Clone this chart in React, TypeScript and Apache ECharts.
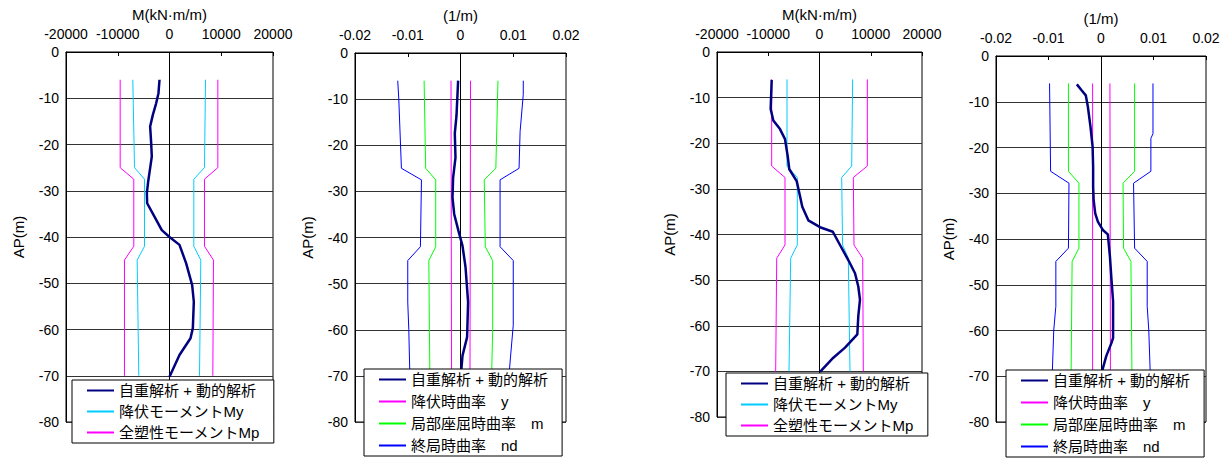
import React, { useEffect, useRef } from "react";
import * as echarts from "echarts";

// ---------- Tick labels / axes ----------
const depthTicks = [0, -10, -20, -30, -40, -50, -60, -70, -80];
const momentTicks = [-20000, -10000, 0, 10000, 20000];
const curvTicks = [-0.02, -0.01, 0, 0.01, 0.02];

// ---------- Legend names ----------
const NAME_MAIN = "自重解析 + 動的解析";
const NAME_MY = "降伏モーメントMy";
const NAME_MP = "全塑性モーメントMp";
const NAME_KY = "降伏時曲率　y";
const NAME_KM = "局部座屈時曲率　m";
const NAME_KND = "終局時曲率　nd";

// ---------- Panel 1 (moment) ----------
const p1MainDepth = [-6, -8.9, -11.1, -13.6, -16.1, -19.7, -22.6, -25.1, -28, -30.5, -32.7, -35.2, -38.5, -40, -41.7, -45.7, -50.4, -54, -59.7, -61.9, -65.5, -70.2];
const p1MainM = [-1930, -2130, -2580, -3220, -3740, -3540, -3420, -3740, -4120, -4380, -4320, -3090, -1490, 0, 1930, 3220, 4380, 4700, 4510, 4060, 1930, 0];
const p1LimDepth = [-6, -25, -27.5, -42, -45, -70];
const p1MyRight = [6960, 6760, 4700, 4700, 6050, 5800];
const p1MyLeft = [-7090, -6760, -4830, -4830, -6250, -5930];
const p1MpRight = [9340, 9340, 6760, 6760, 8500, 8370];
const p1MpLeft = [-9530, -9530, -6900, -6900, -8700, -8700];

// ---------- Panel 2 (curvature) ----------
const p2MainDepth = [-6, -13.6, -17.4, -22.7, -27, -31.3, -34.9, -38.5, -41.8, -46.4, -54, -61.6, -65.6, -70];
const p2MainK = [-0.00045, -0.00076, -0.00108, -0.00095, -0.0014, -0.00152, -0.0012, -0.0004, 0.00038, 0.00095, 0.00144, 0.00125, 0.00038, 0.00006];
const p2NdRightDepth = [-6, -9, -17, -25, -27.5, -42, -45, -59, -67, -70];
const p2NdRight = [0.0119, 0.0119, 0.0113, 0.0111, 0.0075, 0.0075, 0.01, 0.01, 0.0094, 0.0092];
const p2NdLeftDepth = [-6, -10, -25, -27.5, -42, -45, -54, -60, -70];
const p2NdLeft = [-0.0119, -0.0117, -0.0112, -0.0074, -0.0076, -0.01, -0.01, -0.0098, -0.0096];
const p2MDepth = [-6, -25, -27.5, -42, -45, -60, -70];
const p2MRight = [0.0071, 0.0067, 0.0045, 0.0047, 0.0061, 0.0061, 0.0059];
const p2MLeft = [-0.0069, -0.0066, -0.0047, -0.0047, -0.006, -0.0059, -0.0058];
const p2YDepth = [-6, -70];
const p2YRight = [0.0019, 0.0018];
const p2YLeft = [-0.0018, -0.0017];

// ---------- Panel 3 (moment) ----------
const p3MainDepth = [-6.1, -12.5, -15, -16.9, -19.1, -22.8, -25.7, -28.3, -31.6, -33.9, -36.9, -38.4, -39.4, -42.3, -45.6, -48.5, -51.4, -54.3, -57.9, -61.9, -64.8, -67, -70.1];
const p3MainM = [-9330, -9530, -9010, -7710, -6730, -6210, -5890, -4450, -3800, -3360, -2180, 100, 2600, 4000, 5620, 6930, 7570, 7900, 7570, 7380, 4980, 2700, 100];
const p3LimDepth = [-6, -25, -27.5, -42.3, -45.2, -70];
const p3MyRight = [6470, 6280, 4330, 4500, 5620, 5950];
const p3MyLeft = [-6340, -6340, -4330, -4330, -5620, -5950];
const p3MpRight = [9330, 9330, 6600, 6730, 8430, 8550];
const p3MpLeft = [-9330, -9330, -6730, -6730, -8350, -8550];

// ---------- Panel 4 (curvature) ----------
const p4MainDepth = [-6.2, -7.5, -8.6, -11.1, -15.5, -19.8, -24.2, -28.6, -31.5, -34.4, -36.2, -38.1, -39, -43.8, -48.9, -53.6, -61.6, -62.7, -65.6, -68.5, -70];
const p4MainK = [-0.0046, -0.0037, -0.0029, -0.0025, -0.002, -0.0016, -0.0015, -0.0015, -0.0014, -0.0011, -0.0006, 0.0004, 0.0013, 0.0017, 0.002, 0.0023, 0.0023, 0.002, 0.001, 0.0003, 0.0001];
const p4NdRightDepth = [-6, -17, -18, -25.2, -27.8, -42, -44.9, -54.7, -59.9, -70];
const p4NdRight = [0.0099, 0.0099, 0.0095, 0.0095, 0.0062, 0.0064, 0.0088, 0.0088, 0.0091, 0.0094];
const p4NdLeftDepth = [-6, -25.2, -27.8, -42, -44.9, -54.7, -59.9, -70];
const p4NdLeft = [-0.0098, -0.0096, -0.0061, -0.0062, -0.0086, -0.0086, -0.009, -0.0093];
const p4MDepth = [-6, -25.2, -27.8, -42, -44.9, -70];
const p4MRight = [0.0064, 0.0064, 0.0042, 0.0043, 0.0057, 0.0059];
const p4MLeft = [-0.0062, -0.0062, -0.0042, -0.0042, -0.0055, -0.0057];
const p4YDepth = [-6, -70];
const p4YRight = [0.0017, 0.0018];
const p4YLeft = [-0.0016, -0.0016];

const C_MAIN = "#000080";
const C_MY = "#00CCFF";
const C_MP = "#FF00FF";
const C_KY = "#FF00FF";
const C_KM = "#00FF00";
const C_KND = "#0000FF";

const FONT = '"Liberation Sans", Arial, "Noto Sans CJK JP", sans-serif';

const zip = (depth: number[], vals: number[]) => depth.map((d, i) => [vals[i], d]);

const grids = [
  { left: 66, top: 52, width: 207, height: 370 },
  { left: 355, top: 53, width: 211, height: 369 },
  { left: 717, top: 52, width: 205, height: 365 },
  { left: 996, top: 56, width: 210, height: 366 },
];

const legendPos = [
  { left: 72, top: 380, gap: 6 },
  { left: 364, top: 369, gap: 7 },
  { left: 726, top: 373, gap: 6 },
  { left: 1006, top: 370, gap: 7 },
];

function buildOption() {
  const isMoment = [true, false, true, false];
  const xAxes = grids.map((_, i) => {
    const ticks = isMoment[i] ? momentTicks : curvTicks;
    return {
      type: "value",
      gridIndex: i,
      position: "top",
      min: ticks[0],
      max: ticks[ticks.length - 1],
      interval: ticks[1] - ticks[0],
      name: isMoment[i] ? "M(kN·m/m)" : "(1/m)",
      nameLocation: "middle",
      nameGap: 27,
      nameTextStyle: { fontSize: 15, color: "#000", fontFamily: FONT },
      axisLine: { show: true, onZero: false, lineStyle: { color: "#000", width: 1 } },
      axisTick: { show: true, inside: true, length: 4, lineStyle: { color: "#000" } },
      axisLabel: {
        fontSize: 14,
        color: "#000",
        margin: 11,
        fontFamily: FONT,
        formatter: (v: number) => {
          const r = Math.round(v * 1e6) / 1e6;
          return String(r);
        },
      },
      splitLine: { show: false },
    };
  });
  const yAxes = grids.map((_, i) => ({
    type: "value",
    gridIndex: i,
    min: depthTicks[depthTicks.length - 1],
    max: depthTicks[0],
    interval: 10,
    name: "AP(m)",
    nameLocation: "middle",
    nameRotate: 90,
    nameGap: 40,
    nameTextStyle: { fontSize: 15, color: "#000", fontFamily: FONT },
    axisLine: { show: true, onZero: false, lineStyle: { color: "#000", width: 1 } },
    axisTick: { show: false },
    axisLabel: { fontSize: 14, color: "#000", margin: 7, fontFamily: FONT },
    splitLine: { show: true, lineStyle: { color: "#333", width: 1 } },
  }));

  const line = (name: string, color: string, width: number, idx: number, data: number[][], zero = false) => ({
    type: "line",
    name,
    xAxisIndex: idx,
    yAxisIndex: idx,
    data,
    symbol: "none",
    showSymbol: false,
    silent: true,
    z: width > 1 ? 4 : 3,
    lineStyle: { color, width },
    itemStyle: { color },
    markLine: zero
      ? {
          silent: true,
          symbol: "none",
          label: { show: false },
          lineStyle: { color: "#000", width: 1, type: "solid" },
          data: [{ xAxis: 0 }],
          z: 1,
        }
      : undefined,
  });

  const series: any[] = [
    // Panel 1
    line(NAME_MY, C_MY, 1, 0, zip(p1LimDepth, p1MyRight), true),
    line(NAME_MY, C_MY, 1, 0, zip(p1LimDepth, p1MyLeft)),
    line(NAME_MP, C_MP, 1, 0, zip(p1LimDepth, p1MpRight)),
    line(NAME_MP, C_MP, 1, 0, zip(p1LimDepth, p1MpLeft)),
    line(NAME_MAIN, C_MAIN, 2.5, 0, zip(p1MainDepth, p1MainM)),
    // Panel 2
    line(NAME_KY, C_KY, 1, 1, zip(p2YDepth, p2YRight), true),
    line(NAME_KY, C_KY, 1, 1, zip(p2YDepth, p2YLeft)),
    line(NAME_KM, C_KM, 1, 1, zip(p2MDepth, p2MRight)),
    line(NAME_KM, C_KM, 1, 1, zip(p2MDepth, p2MLeft)),
    line(NAME_KND, C_KND, 1, 1, zip(p2NdRightDepth, p2NdRight)),
    line(NAME_KND, C_KND, 1, 1, zip(p2NdLeftDepth, p2NdLeft)),
    line(NAME_MAIN, C_MAIN, 2.5, 1, zip(p2MainDepth, p2MainK)),
    // Panel 3
    line(NAME_MY, C_MY, 1, 2, zip(p3LimDepth, p3MyRight), true),
    line(NAME_MY, C_MY, 1, 2, zip(p3LimDepth, p3MyLeft)),
    line(NAME_MP, C_MP, 1, 2, zip(p3LimDepth, p3MpRight)),
    line(NAME_MP, C_MP, 1, 2, zip(p3LimDepth, p3MpLeft)),
    line(NAME_MAIN, C_MAIN, 2.5, 2, zip(p3MainDepth, p3MainM)),
    // Panel 4
    line(NAME_KY, C_KY, 1, 3, zip(p4YDepth, p4YRight), true),
    line(NAME_KY, C_KY, 1, 3, zip(p4YDepth, p4YLeft)),
    line(NAME_KM, C_KM, 1, 3, zip(p4MDepth, p4MRight)),
    line(NAME_KM, C_KM, 1, 3, zip(p4MDepth, p4MLeft)),
    line(NAME_KND, C_KND, 1, 3, zip(p4NdRightDepth, p4NdRight)),
    line(NAME_KND, C_KND, 1, 3, zip(p4NdLeftDepth, p4NdLeft)),
    line(NAME_MAIN, C_MAIN, 2.5, 3, zip(p4MainDepth, p4MainK)),
  ];

  const legendData = [
    [NAME_MAIN, NAME_MY, NAME_MP],
    [NAME_MAIN, NAME_KY, NAME_KM, NAME_KND],
    [NAME_MAIN, NAME_MY, NAME_MP],
    [NAME_MAIN, NAME_KY, NAME_KM, NAME_KND],
  ];

  const legends = legendPos.map((p, i) => ({
    orient: "vertical",
    left: p.left,
    top: p.top,
    data: legendData[i],
    selectedMode: false,
    itemWidth: 27,
    itemHeight: 14,
    itemGap: p.gap,
    padding: [3, 14, 3, 14],
    backgroundColor: "#fff",
    borderColor: "#000",
    borderWidth: 1,
    borderRadius: 0,
    itemStyle: { opacity: 0 },
    textStyle: { fontSize: 15, color: "#000", fontFamily: FONT },
    z: 10,
  }));

  return {
    animation: false,
    backgroundColor: "#fff",
    textStyle: { fontFamily: FONT },
    grid: grids.map((g) => ({ ...g, show: true, borderColor: "#000", borderWidth: 1, backgroundColor: "transparent" })),
    xAxis: xAxes,
    yAxis: yAxes,
    legend: legends,
    series,
  };
}

export default function App() {
  const ref = useRef<HTMLDivElement>(null);
  useEffect(() => {
    if (!ref.current) return;
    const chart = echarts.init(ref.current, undefined, { renderer: "svg" });
    chart.setOption(buildOption() as any);
    return () => chart.dispose();
  }, []);
  return (
    <div
      ref={ref}
      style={{ position: "fixed", left: 0, top: 0, width: 1229, height: 459, background: "#fff" }}
    />
  );
}
